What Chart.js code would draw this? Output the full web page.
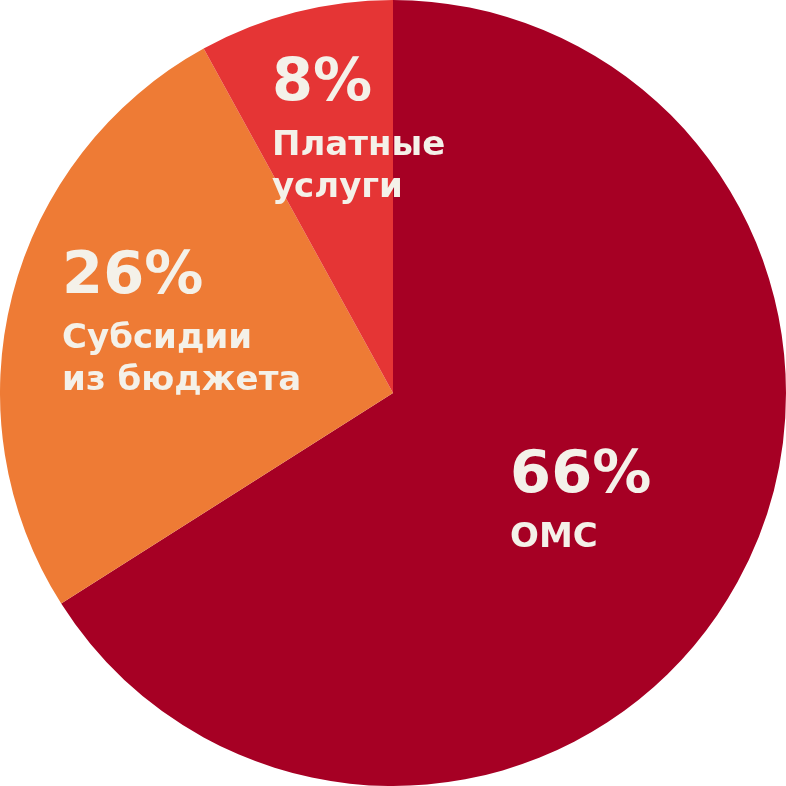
<!DOCTYPE html>
<html lang="ru">
<head>
<meta charset="utf-8">
<title>Структура доходов</title>
<script src="https://cdn.jsdelivr.net/npm/chart.js@4"></script>
<style>
  html, body { margin: 0; padding: 0; background: #fff; }
  canvas { display: block; }
</style>
</head>
<body>
<canvas id="pie" width="786" height="786"></canvas>
<script>
// данные диаграммы
const categories = ['ОМС', 'Субсидии из бюджета', 'Платные услуги'];
const shares     = [66, 26, 8];
const labelLines = [['ОМС'], ['Субсидии', 'из бюджета'], ['Платные', 'услуги']];
const colors     = ['#A60024', '#EE7B35', '#E53535'];

// положение подписей относительно центра, в долях радиуса (левый край, базовая линия числа)
const labelPos = [[0.298, 0.252], [-0.842, -0.254], [-0.308, -0.746]];

const FONT = '"DejaVu Sans", "Open Sans", sans-serif';
const TEXT = '#F4F1E9';

const sliceLabels = {
    id: 'sliceLabels',
    afterDatasetsDraw(chart) {
        const { ctx } = chart;
        const arc0 = chart.getDatasetMeta(0).data[0];
        const cx = arc0.x, cy = arc0.y, r = arc0.outerRadius;
        ctx.save();
        ctx.fillStyle = TEXT;
        ctx.textAlign = 'left';
        ctx.textBaseline = 'alphabetic';
        shares.forEach((v, i) => {
            const x = cx + labelPos[i][0] * r;
            let y = cy + labelPos[i][1] * r;
            ctx.font = `700 59px ${FONT}`;
            ctx.fillText(v + '%', x, y);
            ctx.font = `700 34px ${FONT}`;
            labelLines[i].forEach((line, k) => {
                y += k === 0 ? 55 : 42;
                ctx.fillText(line, x, y);
            });
        });
        ctx.restore();
    }
};

new Chart(document.getElementById('pie').getContext('2d'), {
    type: 'pie',
    data: {
        labels: categories,
        datasets: [{
            data: shares,
            backgroundColor: colors,
            borderWidth: 0,
            hoverOffset: 0
        }]
    },
    options: {
        responsive: false,
        animation: false,
        layout: { padding: 0 },
        plugins: { legend: { display: false }, tooltip: { enabled: false } }
    },
    plugins: [sliceLabels]
});
</script>
</body>
</html>
